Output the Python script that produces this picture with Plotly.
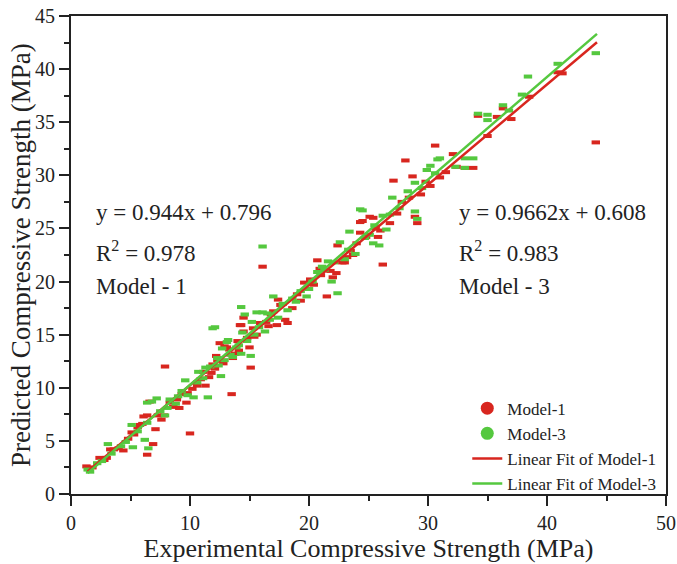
import plotly.graph_objects as go

# ---------------- data ----------------
m1_x = [1.3, 1.8, 2.4, 2.8, 3.0, 3.3, 3.6, 4.0, 4.4, 4.8, 5.1, 5.3, 5.6, 5.8, 6.0,
        6.1, 6.4, 6.4, 6.6, 6.9, 7.1, 7.3, 7.6, 7.8, 7.9, 8.3, 8.6, 8.9, 9.1, 9.3,
        9.7, 9.8, 10.0, 10.2, 10.6, 10.9, 11.1, 11.3, 11.6, 11.9, 12.1, 12.3, 12.5,
        12.8, 13.1, 13.3, 13.5, 13.8, 14.0, 14.2, 14.3, 14.5, 14.5, 14.8, 15.0, 15.1,
        15.3, 15.6, 15.9, 16.1, 16.4, 16.8, 17.3, 17.4, 17.6, 18.0, 18.2, 18.6, 19.0,
        19.6, 20.1, 20.4, 20.7, 21.0, 21.5, 21.8, 22.3, 22.4, 22.8, 23.0, 23.2, 23.7,
        24.0, 24.3, 24.3, 24.5, 24.8, 25.1, 25.4, 25.6, 26.0, 26.2, 26.8, 27.1, 27.4,
        27.8, 28.1, 28.4, 28.7, 28.9, 29.1, 29.4, 29.8, 30.2, 30.6, 31.0, 31.5, 32.1,
        32.4, 33.1, 33.8, 34.2, 35.0, 35.8, 36.3, 37.0, 38.5, 40.9, 41.3, 44.1,
        11.8, 12.2, 12.9, 13.6, 14.1, 15.4, 16.6, 17.0, 19.3, 20.9, 22.0, 23.5, 25.8]
m1_y = [2.6, 2.5, 3.4, 3.2, 3.4, 4.2, 4.2, 4.3, 4.1, 5.2, 5.8, 5.6, 6.3, 6.5, 6.6,
        7.3, 3.7, 7.4, 8.7, 4.7, 6.1, 7.4, 7.0, 7.4, 12.0, 8.6, 8.2, 8.9, 8.1, 9.4,
        8.6, 9.5, 5.7, 9.9, 10.2, 10.8, 11.5, 10.2, 11.0, 12.2, 11.8, 12.6, 14.2,
        12.3, 13.8, 13.6, 9.4, 13.2, 14.4, 15.9, 15.9, 16.6, 15.3, 14.7, 13.8, 11.9,
        15.6, 15.0, 16.1, 21.4, 16.2, 16.9, 15.9, 18.3, 17.8, 16.4, 16.1, 17.5, 18.8,
        19.9, 20.2, 19.7, 22.0, 20.6, 18.6, 21.0, 20.8, 23.4, 21.8, 21.8, 22.3, 22.5,
        23.6, 25.6, 24.6, 25.7, 24.2, 26.1, 26.0, 25.0, 24.8, 21.6, 25.5, 29.5, 26.4,
        27.5, 31.4, 27.9, 29.9, 26.1, 25.5, 28.2, 29.4, 29.0, 32.8, 29.8, 30.3, 32.0,
        30.8, 30.7, 30.7, 35.6, 33.7, 35.5, 36.3, 35.3, 37.4, 39.7, 39.6, 33.1,
        11.4, 13.0, 13.9, 12.8, 13.5, 14.8, 15.8, 17.2, 18.2, 21.2, 20.4, 22.9, 24.2]

m3_x = [1.4, 1.6, 2.2, 3.1, 3.4, 4.2, 5.2, 5.1, 5.6, 6.2, 6.5, 6.4, 6.4, 6.8, 7.2,
        7.5, 8.1, 8.3, 8.8, 9.3, 9.6, 9.8, 10.3, 10.6, 10.7, 11.1, 11.5, 11.9, 12.1,
        12.3, 12.6, 12.7, 13.1, 13.2, 13.6, 14.1, 14.3, 14.4, 14.6, 14.3, 15.1, 15.6,
        15.4, 16.1, 16.1, 16.3, 16.7, 17.0, 17.4, 18.2, 18.6, 19.3, 19.8, 20.3, 20.7,
        21.1, 21.6, 21.9, 22.4, 22.6, 23.3, 23.4, 23.9, 24.3, 24.5, 25.1, 25.4, 25.5,
        25.9, 26.5, 26.2, 27.0, 27.6, 28.3, 28.9, 28.9, 29.1, 29.5, 29.9, 30.2, 30.6,
        30.8, 31.0, 32.3, 33.1, 33.1, 33.8, 34.2, 35.0, 35.0, 36.3, 36.8, 37.9, 38.4,
        40.9, 44.1,
        2.6, 4.6, 7.9, 9.0, 11.3, 11.7, 12.4, 12.9, 13.4, 13.9, 14.8, 15.2, 15.8, 16.5,
        17.8, 18.9, 20.0, 21.3, 22.1, 23.0, 24.7, 26.8]
m3_y = [2.3, 2.1, 2.9, 4.7, 3.8, 4.5, 4.4, 6.5, 5.9, 5.1, 4.3, 6.7, 8.6, 8.7, 9.0,
        7.8, 8.1, 8.9, 8.5, 9.7, 10.7, 9.3, 9.1, 10.5, 11.5, 10.9, 9.1, 15.6, 15.7,
        12.8, 11.1, 13.7, 14.3, 14.5, 12.9, 14.0, 17.6, 15.2, 16.9, 13.2, 13.0, 17.1,
        15.0, 17.1, 23.3, 15.3, 16.4, 18.6, 16.6, 17.3, 18.4, 19.1, 18.6, 20.0, 20.9,
        21.4, 21.9, 20.0, 18.9, 23.7, 23.0, 24.7, 22.6, 26.8, 26.7, 24.4, 23.6, 25.3,
        23.4, 24.9, 26.2, 27.9, 26.9, 28.5, 29.3, 26.6, 25.9, 28.8, 30.5, 30.9, 30.2,
        31.5, 31.6, 30.8, 31.6, 30.7, 31.6, 35.8, 35.7, 35.2, 36.6, 36.1, 37.6, 39.3,
        40.5, 41.5,
        3.1, 4.9, 7.4, 9.2, 11.9, 12.0, 12.1, 12.6, 13.1, 13.8, 14.4, 16.2, 15.7, 17.0,
        17.9, 18.1, 19.3, 21.1, 21.8, 22.1, 24.1, 26.3]

fit_x = [1.4, 44.2]
fit1_slope, fit1_intercept = 0.944, 0.796
fit3_slope, fit3_intercept = 0.9662, 0.608

x_ticks = [0, 10, 20, 30, 40, 50]
y_ticks = [0, 5, 10, 15, 20, 25, 30, 35, 40, 45]

RED = "#d8261f"
GREEN = "#55c83f"
FONT = "Liberation Serif"
INK = "#222222"

fit1_y = [fit1_slope * v + fit1_intercept for v in fit_x]
fit3_y = [fit3_slope * v + fit3_intercept for v in fit_x]

fig = go.Figure()
fig.add_trace(go.Scatter(x=m1_x, y=m1_y, mode="markers", showlegend=False,
                         marker=dict(color=RED, symbol="line-ew", size=6,
                                     line=dict(width=4, color=RED))))
fig.add_trace(go.Scatter(x=m3_x, y=m3_y, mode="markers", showlegend=False,
                         marker=dict(color=GREEN, symbol="line-ew", size=6,
                                     line=dict(width=4, color=GREEN))))
fig.add_trace(go.Scatter(x=fit_x, y=fit1_y, mode="lines", showlegend=False,
                         line=dict(color=RED, width=2.5)))
fig.add_trace(go.Scatter(x=fit_x, y=fit3_y, mode="lines", showlegend=False,
                         line=dict(color=GREEN, width=2.5)))
# legend entries
fig.add_trace(go.Scatter(x=[None], y=[None], mode="markers", name="Model-1",
                         marker=dict(color=RED, size=13, symbol="circle")))
fig.add_trace(go.Scatter(x=[None], y=[None], mode="markers", name="Model-3",
                         marker=dict(color=GREEN, size=13, symbol="circle")))
fig.add_trace(go.Scatter(x=[None], y=[None], mode="lines", name="Linear Fit of Model-1",
                         line=dict(color=RED, width=2.5)))
fig.add_trace(go.Scatter(x=[None], y=[None], mode="lines", name="Linear Fit of Model-3",
                         line=dict(color=GREEN, width=2.5)))

ann_font = dict(family=FONT, size=23, color=INK)
for xx, lines in [(1.9, ["y = 0.944x + 0.796", "R<sup>2</sup> = 0.978", "Model - 1"]),
                  (32.4, ["y = 0.9662x + 0.608", "R<sup>2</sup> = 0.983", "Model - 3"])]:
    for yy, t in zip([26.5, 22.8, 19.5], lines):
        fig.add_annotation(x=xx, y=yy, xref="x", yref="y", text=t, showarrow=False,
                           xanchor="left", yanchor="middle", font=ann_font)

# y-axis title placed as a rotated annotation so it can sit closer to the tick labels
fig.add_annotation(x=-0.084, y=0.5, xref="paper", yref="paper",
                   text="Predicted Compressive Strength (MPa)", textangle=-90,
                   showarrow=False, xanchor="center", yanchor="middle",
                   font=dict(family=FONT, size=27, color=INK))

axis_common = dict(showline=True, linecolor=INK, linewidth=2, mirror=True,
                   ticks="outside", ticklen=10, tickwidth=2, tickcolor=INK,
                   showgrid=False, zeroline=False, automargin=False,
                   ticklabeloverflow="allow",
                   tickfont=dict(family=FONT, size=20, color=INK))
fig.update_xaxes(range=[0, 50], tickvals=x_ticks, ticktext=[str(v) for v in x_ticks],
                 minor=dict(ticks="outside", ticklen=5, tickwidth=2, tickcolor=INK, dtick=5, tick0=0),
                 title=dict(text="Experimental Compressive Strength (MPa)",
                            font=dict(family=FONT, size=26, color=INK), standoff=6),
                 **axis_common)
fig.update_yaxes(range=[0, 45], tickvals=y_ticks, ticktext=[str(v) for v in y_ticks],
                 minor=dict(ticks="outside", ticklen=5, tickwidth=2, tickcolor=INK, dtick=2.5, tick0=0),
                 **axis_common)

fig.update_layout(
    width=677, height=564,
    margin=dict(l=71, r=11, t=16, b=70),
    plot_bgcolor="white", paper_bgcolor="white",
    font=dict(family=FONT, color=INK),
    legend=dict(x=0.666, y=-0.016, xanchor="left", yanchor="bottom",
                bgcolor="rgba(0,0,0,0)", font=dict(family=FONT, size=17, color=INK),
                tracegroupgap=0, itemwidth=30),
)

# remove the default 8px page margin so the figure fills the window exactly
fig.write_html("out.html", config={"displayModeBar": False},
               post_script="document.body.style.margin='0';document.body.style.overflow='hidden';")
